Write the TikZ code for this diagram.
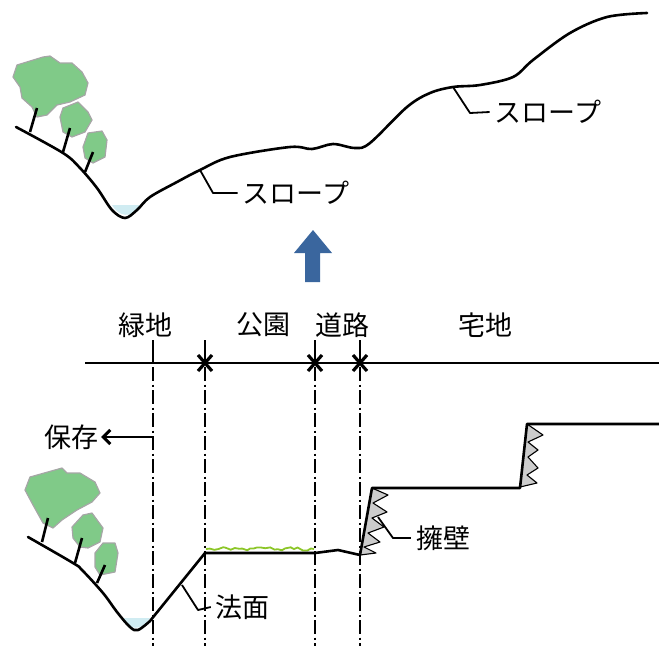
\documentclass[tikz,border=0pt]{standalone}
\usepackage{fontspec}
\newfontfamily\jp{Noto Sans CJK JP}
\usetikzlibrary{positioning,arrows.meta,decorations.pathmorphing}

\definecolor{leafgreen}{RGB}{128,202,136}
\definecolor{pondblue}{RGB}{208,236,242}
\definecolor{turfgreen}{RGB}{140,198,40}
\definecolor{upblue}{RGB}{58,102,158}

\begin{document}
\begin{tikzpicture}[x=1pt,y=-1pt,>=Stealth,
    ground/.style={line width=2.6pt,line join=round,line cap=round},
    leader/.style={line width=1.8pt,line join=round},
    crown/.style={fill=leafgreen,draw=gray!70,line width=1.2pt,line join=round},
    trunk/.style={line width=2.6pt},
    wall/.style={fill=gray!40,draw=black,line width=1.1pt,line join=round},
    border/.style={line width=1.4pt,dash pattern=on 14pt off 3.5pt on 2pt off 3.5pt},
    cross/.style={line width=3.2pt},
    jtext/.style={font=\jp\fontsize{27}{30}\selectfont,inner sep=0pt}]

\useasboundingbox (0,0) rectangle (659,646);

% ---- upper profile: natural slope ----
\fill[pondblue] (112,205) .. controls (118,216) and (132,220) .. (140,205) -- cycle;

\draw[crown] (13,77) -- (17,65) -- (43,57) -- (50,56) -- (60,63) -- (72,63) -- (82,72)
    -- (88,83) -- (85,95) -- (70,102) -- (57,105) -- (47,115) -- (37,117) -- (32,107)
    -- (22,98) -- (20,87) -- cycle;
\draw[crown] (63,108) -- (78,102) -- (88,112) -- (92,120) -- (85,132) -- (72,137)
    -- (63,132) -- (60,117) -- cycle;
\draw[crown] (88,133) -- (102,131) -- (107,140) -- (105,157) -- (93,163) -- (85,158)
    -- (83,147) -- cycle;
\draw[trunk] (37,108) -- (30,132);
\draw[trunk] (70,128) -- (63,152);
\draw[trunk] (93,152) -- (85,172);

\draw[ground] plot[smooth,tension=0.55] coordinates {(16,127) (63,153) (80,168) (97,188)
    (112,210) (125,218) (137,210) (150,197) (177,182) (200,170) (230,157) (290,147)
    (312,149) (333,144) (355,148) (370,143) (407,107) (430,93) (453,87) (480,85)
    (513,77) (533,60) (570,33) (607,17) (647,13)};

\node[jtext] (slopeA) at (296,193) {スロープ};
\node[jtext] (slopeB) at (548,112) {スロープ};
\coordinate (footA) at (200,170);
\coordinate (footB) at (453,87);
\draw[leader] (footA) -- (213,193) -- ([xshift=-5pt]slopeA.west);
\draw[leader] (footB) -- (470,113) -- ([xshift=-5pt]slopeB.west);

% ---- arrow between the two sections ----
\fill[upblue] (305,282) -- (305,253) -- (294,253) -- (313,230) -- (332,253)
    -- (320,253) -- (320,282) -- cycle;

% ---- lower profile: zoning ----
\node[jtext] (green) at (145,325) {緑地};
\node[jtext] (park) at (263,325) {公園};
\node[jtext] (road) at (342,325) {道路};
\node[jtext] (housing) at (485,325) {宅地};

\draw[line width=2.2pt] (85,363) -- (659,363);
\foreach \x in {153,205,315,360} {
  \draw[line width=1.4pt] (\x,340) -- (\x,363);
  \draw[border] (\x,367) -- (\x,646);
}
\foreach \x in {205,315,360}
  \draw[cross] (\x-7,355) -- (\x+7,371) (\x-7,371) -- (\x+7,355);

\node[jtext] (keep) at (72,437) {保存};
\draw[line width=2.6pt,-{Straight Barb[length=7pt,width=14pt,line width=3pt]}]
    (153,437) -- ([xshift=2pt]keep.east);

\fill[pondblue] (122,618) .. controls (128,630) and (142,632) .. (150,618) -- cycle;

\draw[crown] (25,490) -- (30,477) -- (62,468) -- (67,473) -- (80,473) -- (95,482)
    -- (100,493) -- (92,502) -- (77,510) -- (62,520) -- (53,528) -- (43,523)
    -- (33,505) -- cycle;
\draw[crown] (72,527) -- (83,515) -- (92,513) -- (103,528) -- (100,542) -- (88,548)
    -- (80,547) -- (73,538) -- cycle;
\draw[crown] (95,553) -- (103,543) -- (115,543) -- (118,553) -- (115,572) -- (100,575)
    -- (95,567) -- cycle;
\draw[trunk] (48,518) -- (42,542);
\draw[trunk] (82,538) -- (75,563);
\draw[trunk] (105,565) -- (97,583);

% retaining walls
\draw[wall] (372,488) -- (388,495) -- (373,503) -- (387,512) -- (372,518) -- (384,527)
    -- (368,533) -- (380,542) -- (364,547) -- (376,553) -- (360,555) -- cycle;
\draw[wall] (527,424) -- (543,435) -- (528,442) -- (538,450) -- (528,457) -- (538,468)
    -- (527,475) -- (537,483) -- (520,487) -- cycle;

% turf on the park
\pgfmathsetseed{7}
\draw[turfgreen,line width=1.8pt,decorate,
      decoration={random steps,segment length=4pt,amplitude=1.8pt}]
    (206,549) -- (314,549);

\draw[ground] plot[smooth,tension=0.6] coordinates {(28,537) (73,563) (82,570)
    (103,593) (117,612) (130,627) (138,630) (150,621)}
    -- (205,553) -- (315,553) -- (338,550) -- (360,555) -- (372,488) -- (520,488)
    -- (527,424) -- (659,424);

\node[jtext] (face) at (242,607) {法面};
\node[jtext] (retain) at (443,538) {擁壁};
\coordinate (faceFoot) at (182,585);
\coordinate (wallFoot) at (378,517);
\draw[leader] (faceFoot) -- (198,610) -- ([xshift=-4pt]face.west);
\draw[leader] (wallFoot) -- (393,538) -- ([xshift=-5pt]retain.west);

\end{tikzpicture}
\end{document}
